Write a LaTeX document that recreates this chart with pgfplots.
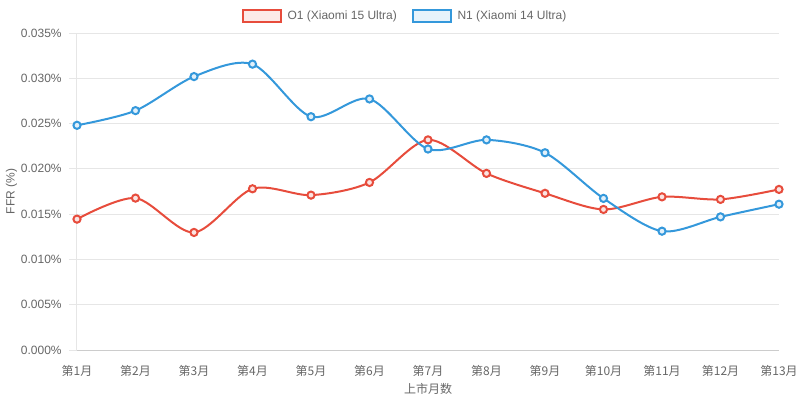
\documentclass[border=0pt]{standalone}
\usepackage{pgfplots}
\pgfplotsset{compat=1.18}
\usepackage{fontspec}
\setmainfont{Liberation Sans}
\newfontfamily\cjk{Noto Sans CJK SC}
\definecolor{cred}{HTML}{E74C3C}
\definecolor{cblue}{HTML}{3498DB}
\definecolor{ctext}{HTML}{666666}
\definecolor{cgrid}{HTML}{E6E6E6}
\pgfplotstableread{
x o1 n1
0 0.01445 0.02481
1 0.01677 0.02643
2 0.01298 0.03019
3 0.01780 0.03156
4 0.01710 0.02576
5 0.01850 0.02772
6 0.02320 0.02219
7 0.01950 0.02320
8 0.01730 0.02178
9 0.01552 0.01674
10 0.01691 0.01312
11 0.01663 0.01470
12 0.01773 0.01610
}\data
\begin{document}
\begin{tikzpicture}
\useasboundingbox (-57.75pt,-38.25pt) rectangle (542.25pt,262.5pt);
\begin{axis}[
  scale only axis,
  width=526.5pt, height=237.75pt,
  xmin=0, xmax=12, ymin=0, ymax=0.035,
  scaled y ticks=false,
  xtick={0,...,12},
  xticklabels={{\cjk 第1月},{\cjk 第2月},{\cjk 第3月},{\cjk 第4月},{\cjk 第5月},{\cjk 第6月},{\cjk 第7月},{\cjk 第8月},{\cjk 第9月},{\cjk 第10月},{\cjk 第11月},{\cjk 第12月},{\cjk 第13月}},
  ytick={0,0.005,0.01,0.015,0.02,0.025,0.03,0.035},
  yticklabels={0.000\%,0.005\%,0.010\%,0.015\%,0.020\%,0.025\%,0.030\%,0.035\%},
  tick label style={font=\fontsize{9}{10}\selectfont, text=ctext},
  x tick label style={yshift=-2pt},
  y tick label style={xshift=-2pt},
  xtick style={draw=none},
  ytick style={draw=cgrid, line width=0.75pt},
  major tick length=6pt,
  tick align=outside,
  ymajorgrids,
  grid style={draw=cgrid, line width=0.75pt},
  axis x line*=bottom, axis y line*=left,
  x axis line style={draw=black!20, line width=0.75pt, -},
  y axis line style={draw=cgrid, line width=0.75pt, -},
  xlabel={\cjk 上市月数},
  ylabel={FFR (\%)},
  label style={font=\fontsize{9}{10}\selectfont, text=ctext},
  xlabel style={yshift=2pt},
  ylabel style={yshift=-4pt},
  clip=false,
  legend style={at={(0.4695,1)}, anchor=center, yshift=12.75pt, draw=none, fill=none,
    font=\fontsize{9}{10}\selectfont, text=ctext, legend columns=2,
    /tikz/every even column/.append style={column sep=7pt},
    nodes={inner xsep=4pt}},
]
\addplot[cred, line width=1.5pt, smooth, tension=0.5, mark=*, mark size=2.7pt,
  mark options={fill=cred!15, draw=cred, line width=1.5pt}, forget plot] table[x=x,y=o1] {\data};
\addplot[cblue, line width=1.5pt, smooth, tension=0.5, mark=*, mark size=2.7pt,
  mark options={fill=cblue!15, draw=cblue, line width=1.5pt}, forget plot] table[x=x,y=n1] {\data};
\addlegendimage{legend image code/.code={\draw[draw=cred, fill=cred!12, line width=1.5pt] (0pt,-4.3pt) rectangle (29pt,4.3pt);}}
\addlegendentry{O1 (Xiaomi 15 Ultra)}
\addlegendimage{legend image code/.code={\draw[draw=cblue, fill=cblue!12, line width=1.5pt] (0pt,-4.3pt) rectangle (29pt,4.3pt);}}
\addlegendentry{N1 (Xiaomi 14 Ultra)}
\end{axis}
\end{tikzpicture}
\end{document}
